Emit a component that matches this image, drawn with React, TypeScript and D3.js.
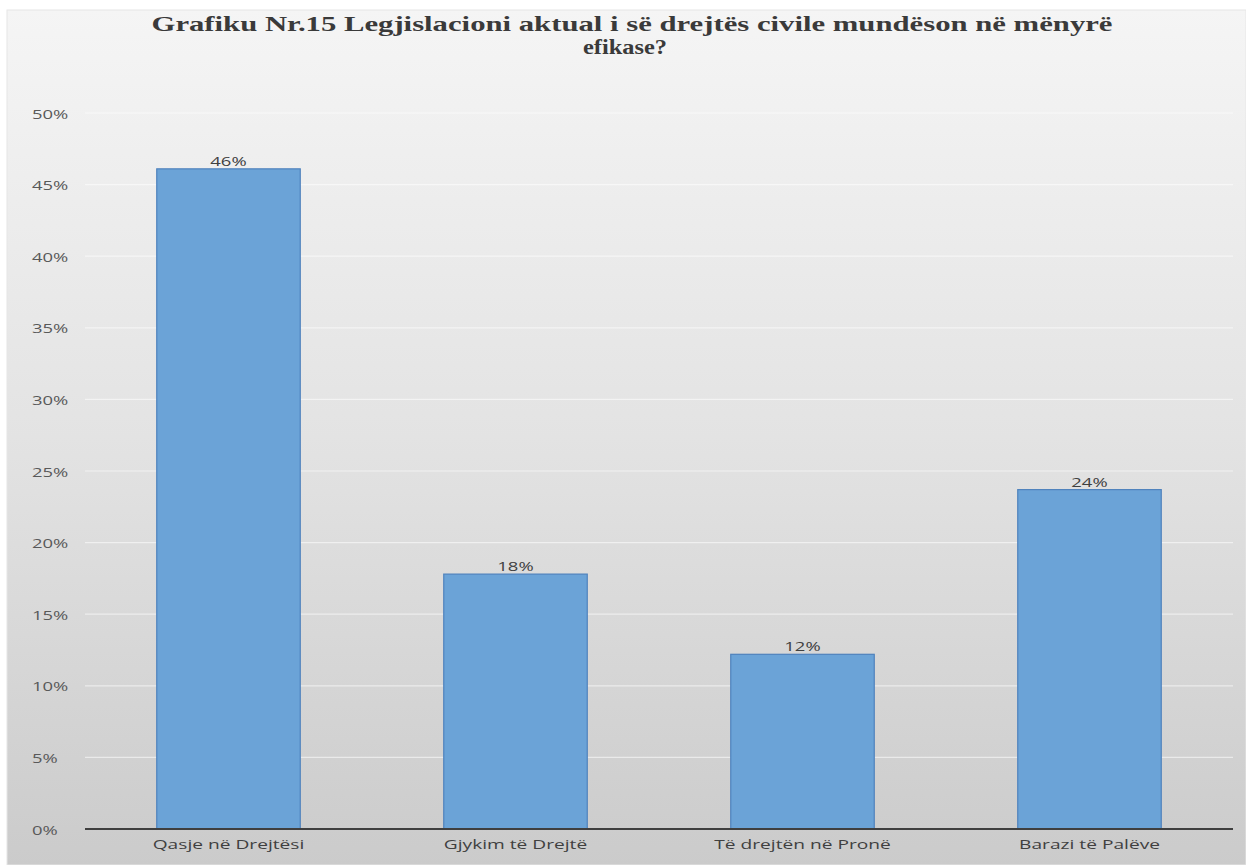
import React from "react";
import * as d3 from "d3";

const categories = ["Qasje në Drejtësi", "Gjykim të Drejtë", "Të drejtën në Pronë", "Barazi të Palëve"];
const values = [46.1, 17.8, 12.2, 23.7];
const valueLabels = ["46%", "18%", "12%", "24%"];
const yTicks = [0, 5, 10, 15, 20, 25, 30, 35, 40, 45, 50];
const titleLines = [
  "Grafiku Nr.15 Legjislacioni aktual i së drejtës civile mundëson në mënyrë",
  "efikase?",
];

const W = 1246;
const H = 865;
const plot = { left: 85, right: 1233, top: 113, bottom: 829 };
const SX = 1.42; // horizontal stretch of the source image

function WideText(props: {
  x: number;
  y: number;
  anchor?: "start" | "middle" | "end";
  size: number;
  fill: string;
  dy?: string;
  children: React.ReactNode;
}) {
  return (
    <g transform={`translate(${props.x},${props.y}) scale(${SX},1)`}>
      <text
        x={0}
        y={0}
        dy={props.dy}
        textAnchor={props.anchor || "start"}
        fontFamily="'Open Sans', 'DejaVu Sans', sans-serif"
        fontSize={props.size}
        fill={props.fill}
      >
        {props.children}
      </text>
    </g>
  );
}

export default function App() {
  const x = d3
    .scaleBand<string>()
    .domain(categories)
    .range([plot.left, plot.right])
    .paddingInner(0.5)
    .paddingOuter(0.25);
  const y = d3.scaleLinear().domain([0, 50]).range([plot.bottom, plot.top]);

  return (
    <svg
      width={W}
      height={H}
      style={{ position: "absolute", left: 0, top: 0, display: "block" }}
    >
      <defs>
        <linearGradient id="bg" x1="0" y1="0" x2="0" y2="1">
          <stop offset="0" stopColor="#f5f5f5" />
          <stop offset="0.5" stopColor="#e3e3e3" />
          <stop offset="1" stopColor="#cbcbcb" />
        </linearGradient>
      </defs>
      <rect x={0} y={0} width={W} height={H} fill="#ffffff" />
      <rect x={7} y={10} width={W - 7} height={H - 10} fill="url(#bg)" stroke="#e6e6e6" />

      <text
        x={632}
        y={31}
        textAnchor="middle"
        fontFamily="'Liberation Serif', 'Times New Roman', serif"
        fontWeight="bold"
        fontSize={21}
        fill="#3a3a3a"
        textLength={961}
        lengthAdjust="spacingAndGlyphs"
      >
        {titleLines[0]}
      </text>
      <text
        x={625}
        y={54}
        textAnchor="middle"
        fontFamily="'Liberation Serif', 'Times New Roman', serif"
        fontWeight="bold"
        fontSize={21}
        fill="#3a3a3a"
        textLength={84}
        lengthAdjust="spacingAndGlyphs"
      >
        {titleLines[1]}
      </text>

      {yTicks.map((t) => (
        <g key={t}>
          {t > 0 && (
            <line
              x1={plot.left}
              x2={plot.right}
              y1={y(t)}
              y2={y(t)}
              stroke="#ffffff"
              strokeOpacity={0.55}
              strokeWidth={1.2}
            />
          )}
          <WideText x={32} y={y(t) + 1} dy="0.35em" size={13} fill="#595959">
            {t}%
          </WideText>
        </g>
      ))}

      {categories.map((c, i) => (
        <g key={c}>
          <rect
            x={x(c)}
            y={y(values[i])}
            width={x.bandwidth()}
            height={y(0) - y(values[i])}
            fill="#6ba3d7"
            stroke="#4f82bd"
            strokeWidth={1.2}
          />
          <WideText
            x={(x(c) as number) + x.bandwidth() / 2}
            y={y(values[i]) - 3}
            anchor="middle"
            size={13}
            fill="#404040"
          >
            {valueLabels[i]}
          </WideText>
          <WideText
            x={(x(c) as number) + x.bandwidth() / 2}
            y={844}
            dy="0.35em"
            anchor="middle"
            size={13.5}
            fill="#404040"
          >
            {c}
          </WideText>
        </g>
      ))}

      <line
        x1={plot.left}
        x2={plot.right}
        y1={y(0)}
        y2={y(0)}
        stroke="#3f3f3f"
        strokeWidth={2.2}
      />
    </svg>
  );
}
